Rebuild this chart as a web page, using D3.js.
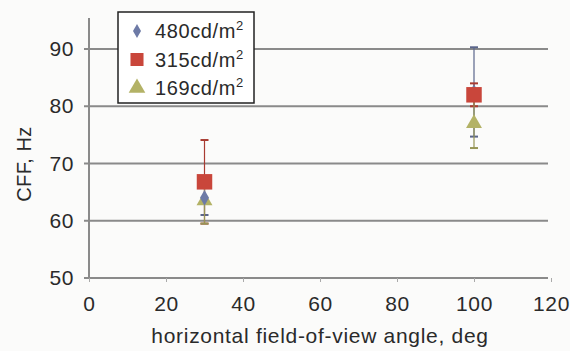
<!DOCTYPE html>
<html>
<head>
<meta charset="utf-8">
<script src="https://cdn.jsdelivr.net/npm/d3@7"></script>
<style>
  body { margin: 0; background: #fbfbfa; }
  svg { font-family: "Liberation Sans", Arial, sans-serif; }
</style>
</head>
<body>
<svg id="chart" width="570" height="351"></svg>
<script>
// angles (deg) and CFF values per luminance
var angles = [30, 100];
var series = ["480cd/m", "315cd/m", "169cd/m"];
var cff480 = [64.0, 82.5];
var cff315 = [66.8, 82.0];
var cff169 = [63.5, 77.0];
// error bar half-widths
var err480 = [3.0, 7.8];
var err315 = [7.3, 2.0];
var err169 = [4.0, 4.3];
var xTicks = [0, 20, 40, 60, 80, 100, 120];
var yTicks = [50, 60, 70, 80, 90];

var colors = ["#6d7aa6", "#c9463b", "#b3b266"];
var shapes = [d3.symbolDiamond, d3.symbolSquare, d3.symbolTriangle];
var sizes = [70, 240, 110];

var svg = d3.select("#chart");

var x = d3.scaleLinear().domain([0, 120]).range([89, 551]);
var y = d3.scaleLinear().domain([50, 90]).range([278, 49]);

// gridlines
svg.append("g")
  .selectAll("line")
  .data(yTicks)
  .join("line")
  .attr("x1", 84)
  .attr("x2", 548)
  .attr("y1", d => y(d))
  .attr("y2", d => y(d))
  .attr("stroke", "#8a8a8a")
  .attr("stroke-width", 2);

// y axis line
svg.append("line")
  .attr("x1", x(0)).attr("x2", x(0))
  .attr("y1", 18).attr("y2", y(50))
  .attr("stroke", "#8a8a8a")
  .attr("stroke-width", 2);

var yAxis = svg.append("g")
  .attr("transform", "translate(" + x(0) + ",0)")
  .call(d3.axisLeft(y).tickValues(yTicks).tickSize(0).tickPadding(15));
yAxis.select(".domain").remove();
yAxis.selectAll("text")
  .attr("font-size", 21)
  .attr("letter-spacing", 0.6)
  .attr("fill", "#2a2a2a")
  .attr("font-family", "Liberation Sans, Arial, sans-serif");

var xAxis = svg.append("g")
  .attr("transform", "translate(0," + y(50) + ")")
  .call(d3.axisBottom(x).tickValues(xTicks).tickSize(4).tickPadding(14));
xAxis.select(".domain").remove();
xAxis.selectAll("line").attr("stroke", "#aaa");
xAxis.selectAll("text")
  .attr("font-size", 21)
  .attr("letter-spacing", 0.6)
  .attr("fill", "#2a2a2a")
  .attr("font-family", "Liberation Sans, Arial, sans-serif");

// axis titles
svg.append("text")
  .attr("transform", "translate(31,164) rotate(-90)")
  .attr("text-anchor", "middle")
  .attr("font-size", 20)
  .attr("letter-spacing", 0.5)
  .attr("fill", "#2a2a2a")
  .text("CFF, Hz");

svg.append("text")
  .attr("x", 320)
  .attr("y", 343)
  .attr("text-anchor", "middle")
  .attr("font-size", 21)
  .attr("letter-spacing", 0.7)
  .attr("fill", "#2a2a2a")
  .text("horizontal field-of-view angle, deg");

var data = [
  { vals: cff480, errs: err480 },
  { vals: cff315, errs: err315 },
  { vals: cff169, errs: err169 }
];

// error bars
data.forEach(function (s, i) {
  var g = svg.append("g");
  angles.forEach(function (a, j) {
    var lo = s.vals[j] - s.errs[j], hi = s.vals[j] + s.errs[j];
    g.append("line")
      .attr("x1", x(a)).attr("x2", x(a))
      .attr("y1", y(lo)).attr("y2", y(hi))
      .attr("stroke", d3.color(colors[i]).darker(0.5))
      .attr("stroke-width", 1.2);
    [lo, hi].forEach(function (v) {
      g.append("line")
        .attr("x1", x(a) - 4).attr("x2", x(a) + 4)
        .attr("y1", y(v)).attr("y2", y(v))
        .attr("stroke", d3.color(colors[i]).darker(0.5))
        .attr("stroke-width", 2);
    });
  });
});

// markers: draw triangle, diamond, then square on top
[2, 0, 1].forEach(function (i) {
  svg.append("g")
    .selectAll("path")
    .data(angles)
    .join("path")
    .attr("transform", (a, j) => "translate(" + x(a) + "," + y(data[i].vals[j]) + ")")
    .attr("d", d3.symbol().type(shapes[i]).size(sizes[i]))
    .attr("fill", colors[i]);
});

// legend
var leg = svg.append("g");
leg.append("rect")
  .attr("x", 118).attr("y", 12)
  .attr("width", 136).attr("height", 91)
  .attr("fill", "#fff")
  .attr("stroke", "#222")
  .attr("stroke-width", 1.5);

series.forEach(function (name, i) {
  var cy = 31 + i * 28.5;
  leg.append("path")
    .attr("transform", "translate(137," + cy + ")")
    .attr("d", d3.symbol().type(shapes[i]).size(i === 1 ? 170 : (i === 0 ? 55 : 120)))
    .attr("fill", colors[i]);
  var t = leg.append("text")
    .attr("x", 155)
    .attr("y", cy + 7)
    .attr("font-size", 20)
    .attr("letter-spacing", 0.6)
    .attr("fill", "#2a2a2a")
    .text(name);
  t.append("tspan")
    .attr("dy", -8)
    .attr("font-size", 13)
    .text("2");
});
</script>
</body>
</html>
